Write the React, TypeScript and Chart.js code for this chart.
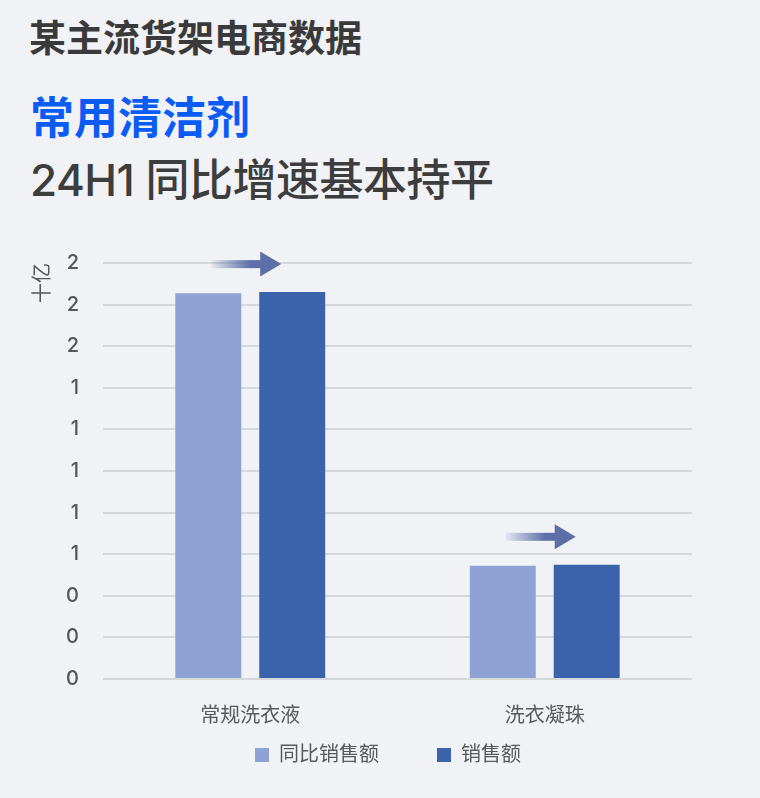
import React, { useEffect, useRef } from "react";
import { Chart, registerables } from "chart.js";

Chart.register(...registerables);

const categories = ["常规洗衣液", "洗衣凝珠"];
const seriesNames = ["同比销售额", "销售额"];
const prevYearSales = [1.855, 0.545];
const currentSales = [1.86, 0.549];
const seriesColors = ["#8fa2d4", "#3b63ab"];
const yAxisTitle = "十亿";
const yMin = 0;
const yMax = 2;
const yStep = 0.2;

const FONT = "Inter, 'Noto Sans CJK SC', sans-serif";

const arrowPlugin = {
  id: "trendArrows",
  afterDatasetsDraw(chart: any) {
    const m0 = chart.getDatasetMeta(0);
    const m1 = chart.getDatasetMeta(1);
    const ctx = chart.ctx;
    m0.data.forEach((b0: any, i: number) => {
      const b1 = m1.data[i];
      if (!b1) return;
      const y = Math.min(b0.y, b1.y) - 28;
      const x0 = b0.x + 3;
      const tip = b1.x - 11;
      const headLen = 21;
      const shaftH = 8;
      const headH = 25;
      const hx = tip - headLen;
      ctx.save();
      const g = ctx.createLinearGradient(x0, 0, x0 + (hx - x0) * 0.8, 0);
      g.addColorStop(0, "rgba(92,111,166,0.08)");
      g.addColorStop(1, "rgba(92,111,166,1)");
      ctx.fillStyle = g;
      ctx.fillRect(x0, y - shaftH / 2, hx - x0 + 1, shaftH);
      ctx.fillStyle = "#5c6fa6";
      ctx.beginPath();
      ctx.moveTo(hx, y - headH / 2);
      ctx.lineTo(tip, y);
      ctx.lineTo(hx, y + headH / 2);
      ctx.closePath();
      ctx.fill();
      ctx.restore();
    });
  },
};

function BarChart() {
  const ref = useRef<HTMLCanvasElement | null>(null);
  useEffect(() => {
    if (!ref.current) return;
    const chart = new Chart(ref.current, {
      type: "bar",
      data: {
        labels: categories,
        datasets: [
          {
            label: seriesNames[0],
            data: prevYearSales,
            backgroundColor: seriesColors[0],
            barPercentage: 0.786,
            categoryPercentage: 0.57,
          },
          {
            label: seriesNames[1],
            data: currentSales,
            backgroundColor: seriesColors[1],
            barPercentage: 0.786,
            categoryPercentage: 0.57,
          },
        ],
      },
      options: {
        animation: false,
        responsive: true,
        maintainAspectRatio: false,
        layout: { padding: { top: 23, left: 16, right: 0, bottom: 23 } },
        plugins: {
          tooltip: { enabled: false },
          legend: {
            position: "bottom",
            labels: {
              boxWidth: 14,
              boxHeight: 14,
              padding: 18,
              color: "#595959",
              font: { family: FONT, size: 20 },
              generateLabels: (c: any) => {
                const items = Chart.defaults.plugins.legend.labels.generateLabels(c);
                return items.map((it: any, i: number) =>
                  i < items.length - 1 ? { ...it, text: it.text + "\u3000\u3000" } : it
                );
              },
            },
          },
        },
        scales: {
          x: {
            grid: { display: false, drawTicks: false },
            border: { display: false },
            ticks: {
              padding: 25,
              color: "#595959",
              font: { family: FONT, size: 20 },
            },
            afterFit: (s: any) => {
              s.height = 48;
            },
          },
          y: {
            min: yMin,
            max: yMax,
            grid: {
              color: "#d6d7d9",
              lineWidth: 2,
              drawTicks: true,
              tickLength: 24,
              tickColor: "rgba(0,0,0,0)",
            },
            border: { display: false },
            ticks: {
              stepSize: yStep,
              padding: 0,
              color: "#555555",
              font: { family: FONT, size: 20, weight: 500 },
              callback: (v: any) => Number(v).toFixed(0),
            },
            title: {
              display: true,
              text: yAxisTitle,
              align: "end",
              color: "#555555",
              padding: { top: 15, bottom: 0 },
              font: { family: FONT, size: 20 },
            },
            afterFit: (s: any) => {
              s.width = 87;
            },
          },
          yRight: {
            position: "right",
            display: true,
            grid: { display: false, drawTicks: false },
            border: { display: false },
            ticks: { display: false, padding: 0 },
            afterFit: (s: any) => {
              s.width = 68;
            },
          },
        },
      },
      plugins: [arrowPlugin],
    } as any);
    return () => chart.destroy();
  }, []);
  return <canvas ref={ref} />;
}

export default function App() {
  return (
    <div
      style={{
        position: "fixed",
        left: 0,
        top: 0,
        width: 760,
        height: 798,
        overflow: "hidden",
        background: "#f0f2f5",
        fontFamily: FONT,
      }}
    >
      <div
        style={{
          position: "absolute",
          left: 29,
          top: 16,
          fontSize: 37,
          lineHeight: "46px",
          fontWeight: 700,
          color: "#3a3a3a",
          whiteSpace: "nowrap",
        }}
      >
        某主流货架电商数据
      </div>
      <div
        style={{
          position: "absolute",
          left: 30,
          top: 90,
          fontSize: 44,
          lineHeight: "56px",
          fontWeight: 700,
          color: "#0a5cf5",
          whiteSpace: "nowrap",
        }}
      >
        常用清洁剂
      </div>
      <div
        style={{
          position: "absolute",
          left: 30,
          top: 152,
          fontSize: 44,
          lineHeight: "56px",
          fontWeight: 500,
          color: "#3d3d3d",
          whiteSpace: "nowrap",
          letterSpacing: -0.5,
        }}
      >
        24H1 同比增速基本持平
      </div>
      <div style={{ position: "absolute", left: 0, top: 240, width: 760, height: 558 }}>
        <BarChart />
      </div>
    </div>
  );
}
